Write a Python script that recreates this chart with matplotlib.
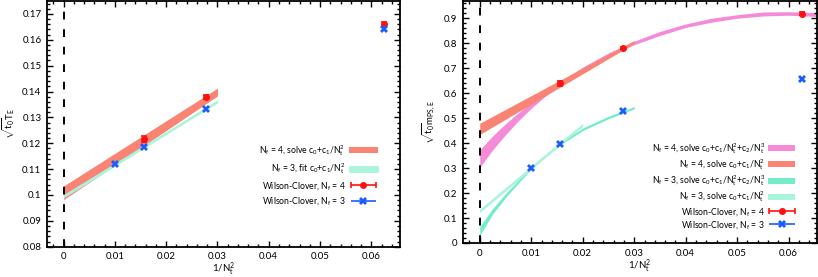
import numpy as np
import matplotlib
matplotlib.use('Agg')
import matplotlib.pyplot as plt
from matplotlib.ticker import MultipleLocator, FuncFormatter
from matplotlib.legend_handler import HandlerErrorbar
from matplotlib.container import ErrorbarContainer

# ---- data ----
inv_nt2 = [0.01, 0.015625, 0.027778, 0.0625]

# left panel: sqrt(t0) T_E
te_nf4_x = [0.015625, 0.027778, 0.0625]
te_nf4 = [0.1217, 0.1379, 0.1663]
te_nf4_err = [0.0012, 0.0009, 0.0006]
te_nf3 = [0.1120, 0.1185, 0.1332, 0.1641]
te_nf3_err = [0.0004, 0.0004, 0.0004, 0.0004]

te_band4_x = [0.0, 0.03]
te_band4_hi = [0.1035, 0.1413]
te_band4_lo = [0.0982, 0.1383]
te_band3_x = [0.0, 0.03]
te_band3_hi = [0.1000, 0.1366]
te_band3_lo = [0.0991, 0.1358]

# right panel: sqrt(t0) m_PS,E
mps_nf4_x = [0.015625, 0.027778, 0.0625]
mps_nf4 = [0.640, 0.782, 0.919]
mps_nf4_err = [0.010, 0.005, 0.005]
mps_nf3 = [0.301, 0.398, 0.528, 0.656]
mps_nf3_err = [0.004, 0.004, 0.004, 0.004]

quad4_x = [0.0, 0.0025, 0.005, 0.0075, 0.01, 0.0125, 0.015625, 0.02, 0.025, 0.03,
           0.035, 0.04, 0.045, 0.05, 0.055, 0.06, 0.0655]
quad4_hi = [0.373, 0.429, 0.478, 0.522, 0.562, 0.601, 0.647, 0.705, 0.762, 0.809,
            0.848, 0.878, 0.901, 0.915, 0.926, 0.927, 0.924]
quad4_lo = [0.303, 0.373, 0.434, 0.490, 0.540, 0.585, 0.633, 0.691, 0.748, 0.795,
            0.832, 0.864, 0.885, 0.901, 0.910, 0.913, 0.908]
lin4_x = [0.0, 0.03]
lin4_hi = [0.480, 0.812]
lin4_lo = [0.435, 0.800]
quad3_x = [0.0, 0.0025, 0.005, 0.0075, 0.01, 0.0125, 0.015625, 0.02, 0.025, 0.03]
quad3_hi = [0.066, 0.138, 0.198, 0.252, 0.306, 0.351, 0.403, 0.461, 0.508, 0.547]
quad3_lo = [0.030, 0.116, 0.182, 0.240, 0.296, 0.343, 0.393, 0.451, 0.498, 0.538]
lin3_x = [0.0, 0.02]
lin3_hi = [0.136, 0.480]
lin3_lo = [0.122, 0.468]

col_salmon = '#f98474'
col_pink = '#f48ad8'
col_aqua = '#74ecc8'
col_aqua_l = '#aaf4dc'
col_red = '#ff1010'
col_blue = '#1a5cff'

plt.rcParams['font.family'] = ['Lato', 'DejaVu Sans']
plt.rcParams['mathtext.fontset'] = 'custom'
plt.rcParams['mathtext.rm'] = 'Lato'
plt.rcParams['mathtext.it'] = 'Lato:italic'
plt.rcParams['mathtext.default'] = 'regular'
plt.rcParams['font.size'] = 7
plt.rcParams['axes.linewidth'] = 1.3

fig = plt.figure(figsize=(8.18, 2.77), dpi=100)
ax1 = fig.add_axes([47/818, 30.3/277, 353/818, 245.7/277])
ax2 = fig.add_axes([463/818, 34/277, 354/818, 242/277])


def style(ax, xmaj, ymaj, ymin):
    ax.xaxis.set_major_locator(MultipleLocator(xmaj))
    ax.xaxis.set_minor_locator(MultipleLocator(xmaj / 5))
    ax.yaxis.set_major_locator(MultipleLocator(ymaj))
    ax.yaxis.set_minor_locator(MultipleLocator(ymin))
    ax.tick_params(which='both', direction='in', top=True, right=True, width=1.0)
    ax.tick_params(which='major', length=4, pad=4)
    ax.tick_params(which='minor', length=2)
    ax.xaxis.set_major_formatter(FuncFormatter(lambda v, p: '%g' % round(v, 4)))
    ax.yaxis.set_major_formatter(FuncFormatter(lambda v, p: '%g' % round(v, 4)))
    ax.axvline(0, color='black', ls=(0, (4, 5)), lw=1.4)


def data_points(ax, x4, y4, e4, y3, e3):
    ax.errorbar(x4, y4, yerr=e4, fmt='o', color=col_red, ms=4, capsize=2,
                elinewidth=1.2, capthick=1.2, zorder=5)
    ax.errorbar(inv_nt2, y3, yerr=e3, fmt='X', color=col_blue, ms=6, mew=0,
                capsize=2, elinewidth=1.2, capthick=1.2, zorder=5)
    ax.errorbar([np.nan], [np.nan], xerr=[1], fmt='o', color=col_red,
                ms=4, capsize=2.5, elinewidth=1.2, capthick=1.2,
                label=r'Wilson-Clover, N$_f$ = 4')
    ax.errorbar([np.nan], [np.nan], xerr=[1], fmt='X', color=col_blue,
                ms=6, mew=0, capsize=2.5, elinewidth=1.2, capthick=1.2,
                label=r'Wilson-Clover, N$_f$ = 3')


hmap = {ErrorbarContainer: HandlerErrorbar(xerr_size=1.5)}

# ---- left panel ----
ax1.fill_between(te_band4_x, te_band4_lo, te_band4_hi, color=col_salmon, lw=0,
                 label=r'N$_f$ = 4, solve c$_0$+c$_1$/N$_t^2$')
ax1.fill_between(te_band3_x, te_band3_lo, te_band3_hi, color=col_aqua_l, lw=0.6,
                 edgecolor=col_aqua_l, label=r'N$_f$ = 3, fit c$_0$+c$_1$/N$_t^2$')
data_points(ax1, te_nf4_x, te_nf4, te_nf4_err, te_nf3, te_nf3_err)
style(ax1, 0.01, 0.01, 0.002)
ax1.set_xlim(-0.00325, 0.0656)
ax1.set_ylim(0.08, 0.175)
ax1.set_xlabel(r'1/N$_t^2$', fontsize=7, labelpad=0)
ax1.set_ylabel(r'$\sqrt{t_0}T_E$', fontsize=7, labelpad=4)
ax1.legend(loc='center right', bbox_to_anchor=(0.938, 0.292), frameon=False,
           markerfirst=False, handlelength=3.4, handletextpad=0.4,
           labelspacing=0.4, borderpad=0, borderaxespad=0, fontsize=6.2,
           handler_map=hmap)

# ---- right panel ----
ax2.fill_between(quad4_x, quad4_lo, quad4_hi, color=col_pink, lw=0,
                 label=r'N$_f$ = 4, solve c$_0$+c$_1$/N$_t^2$+c$_2$/N$_t^3$')
ax2.fill_between(lin4_x, lin4_lo, lin4_hi, color=col_salmon, lw=0,
                 label=r'N$_f$ = 4, solve c$_0$+c$_1$/N$_t^2$')
ax2.fill_between(quad3_x, quad3_lo, quad3_hi, color=col_aqua, lw=0,
                 label=r'N$_f$ = 3, solve c$_0$+c$_1$/N$_t^2$+c$_2$/N$_t^3$')
ax2.fill_between(lin3_x, lin3_lo, lin3_hi, color=col_aqua_l, lw=0,
                 label=r'N$_f$ = 3, solve c$_0$+c$_1$/N$_t^2$')
data_points(ax2, mps_nf4_x, mps_nf4, mps_nf4_err, mps_nf3, mps_nf3_err)
style(ax2, 0.01, 0.1, 0.02)
ax2.set_xlim(-0.00325, 0.0655)
ax2.set_ylim(0, 0.97)
ax2.set_xlabel(r'1/N$_t^2$', fontsize=7, labelpad=0)
ax2.set_ylabel(r'$\sqrt{t_0}m_{PS,E}$', fontsize=7, labelpad=4)
ax2.legend(loc='center right', bbox_to_anchor=(0.938, 0.236), frameon=False,
           markerfirst=False, handlelength=3.1, handletextpad=0.4,
           labelspacing=0.15, borderpad=0, borderaxespad=0, fontsize=6.2,
           handler_map=hmap)

fig.savefig('out.png', dpi=100)
